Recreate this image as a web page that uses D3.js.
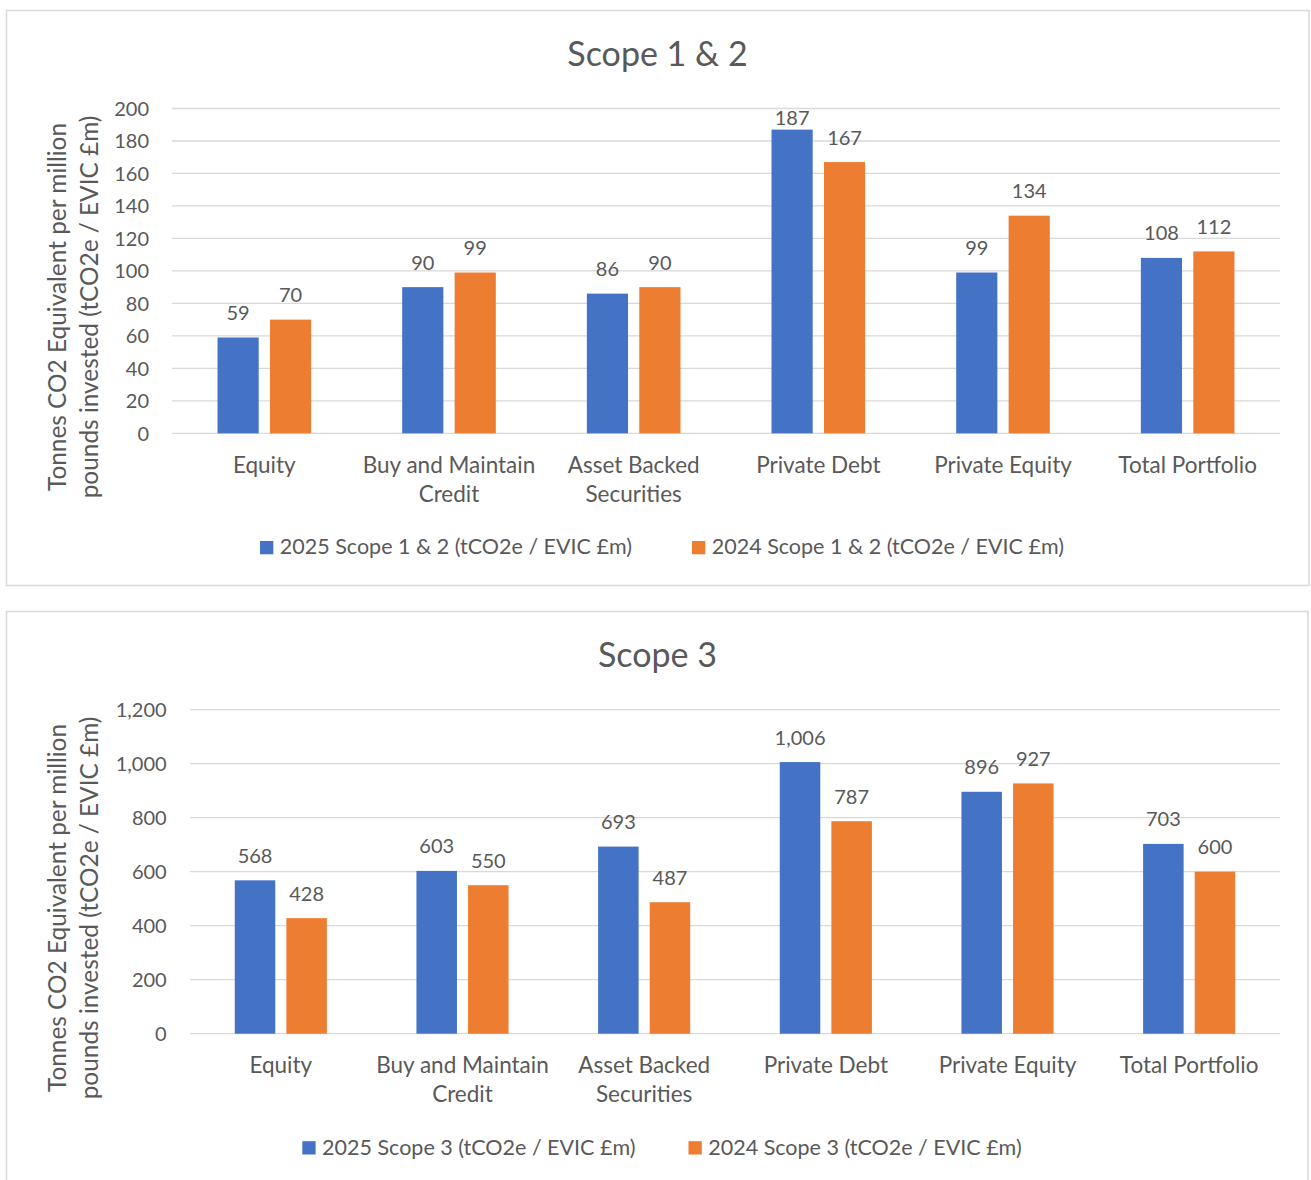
<!DOCTYPE html>
<html>
<head>
<meta charset="utf-8">
<script src="https://cdn.jsdelivr.net/npm/d3@7"></script>
<style>
  html, body { margin: 0; padding: 0; background: #ffffff; }
  svg { display: block; }
  text { font-family: Lato, "Open Sans", sans-serif; fill: #595959; }
</style>
</head>
<body>
<svg id="chart" width="1311" height="1180"></svg>
<script>
// ---------- Data ----------
const categories = ["Equity", "Buy and Maintain Credit", "Asset Backed Securities", "Private Debt", "Private Equity", "Total Portfolio"];
const categoryLines = [["Equity"], ["Buy and Maintain", "Credit"], ["Asset Backed", "Securities"], ["Private Debt"], ["Private Equity"], ["Total Portfolio"]];

const scope12Series = ["2025 Scope 1 & 2 (tCO2e / EVIC £m)", "2024 Scope 1 & 2 (tCO2e / EVIC £m)"];
const scope12_2025 = [59, 90, 86, 187, 99, 108];
const scope12_2024 = [70, 99, 90, 167, 134, 112];
const scope12Ticks = [0, 20, 40, 60, 80, 100, 120, 140, 160, 180, 200];

const scope3Series = ["2025 Scope 3 (tCO2e / EVIC £m)", "2024 Scope 3 (tCO2e / EVIC £m)"];
const scope3_2025 = [568, 603, 693, 1006, 896, 703];
const scope3_2024 = [428, 550, 487, 787, 927, 600];
const scope3Ticks = [0, 200, 400, 600, 800, 1000, 1200];

const yTitleLines = ["Tonnes CO2 Equivalent per million", "pounds invested (tCO2e / EVIC £m)"];
const seriesColors = ["#4472C4", "#ED7D31"];

// ---------- Drawing ----------
const svg = d3.select("#chart");
const fmt = d3.format(",");

function drawChart(cfg) {
  const g = svg.append("g");
  // frame
  g.append("rect")
    .attr("x", cfg.frame.x).attr("y", cfg.frame.y)
    .attr("width", cfg.frame.w).attr("height", cfg.frame.h)
    .attr("fill", "#fff").attr("stroke", "#d9d9d9").attr("stroke-width", 1.5);

  // title
  g.append("text")
    .attr("x", cfg.titleX).attr("y", cfg.titleY)
    .attr("text-anchor", "middle")
    .style("font-size", "34px")
    .text(cfg.title);

  const y = d3.scaleLinear().domain([0, cfg.ticks[cfg.ticks.length - 1]]).range([cfg.plot.bottom, cfg.plot.top]);
  const x0 = d3.scaleBand().domain(categories).range([cfg.plot.left, cfg.plot.right])
    .paddingInner(0.493).paddingOuter(0.2465);
  const x1 = d3.scaleBand().domain([0, 1]).range([0, x0.bandwidth()]).paddingInner(0.215);

  // gridlines
  g.append("g").selectAll("line").data(cfg.ticks).join("line")
    .attr("x1", cfg.plot.left).attr("x2", cfg.plot.right)
    .attr("y1", d => y(d)).attr("y2", d => y(d))
    .attr("stroke", "#d9d9d9").attr("stroke-width", 1.3);

  // y tick labels
  g.append("g").selectAll("text").data(cfg.ticks).join("text")
    .attr("x", cfg.tickX).attr("y", d => y(d))
    .attr("dy", "0.36em")
    .attr("text-anchor", "end")
    .style("font-size", "20px")
    .text(d => fmt(d));

  // bars
  const seriesVals = [cfg.v2025, cfg.v2024];
  seriesVals.forEach((vals, si) => {
    const bg = g.append("g");
    bg.selectAll("rect").data(vals).join("rect")
      .attr("x", (d, i) => x0(categories[i]) + x1(si))
      .attr("width", x1.bandwidth())
      .attr("y", d => y(d))
      .attr("height", d => y(0) - y(d))
      .attr("fill", seriesColors[si]);
    bg.selectAll("text").data(vals).join("text")
      .attr("x", (d, i) => x0(categories[i]) + x1(si) + x1.bandwidth() / 2)
      .attr("y", d => Math.max(y(d) - 17.5, cfg.plot.top + 16.5))
      .attr("text-anchor", "middle")
      .style("font-size", "20px")
      .text(d => fmt(d));
  });

  // category labels
  const cg = g.append("g");
  categories.forEach((c, i) => {
    const t = cg.append("text")
      .attr("x", x0(c) + x0.bandwidth() / 2)
      .attr("y", cfg.plot.bottom + 39.2)
      .attr("text-anchor", "middle")
      .style("font-size", "22.5px");
    categoryLines[i].forEach((ln, li) => {
      t.append("tspan").attr("x", x0(c) + x0.bandwidth() / 2).attr("dy", li === 0 ? 0 : 29.3).text(ln);
    });
  });

  // y axis title
  const yt = g.append("text")
    .attr("transform", `translate(0,${cfg.yTitleCenter}) rotate(-90)`)
    .attr("text-anchor", "middle")
    .style("font-size", "24.4px");
  yTitleLines.forEach((ln, li) => {
    yt.append("tspan").attr("x", 0).attr("y", li === 0 ? 66 : 98).text(ln);
  });

  // legend
  const lg = g.append("g");
  const items = cfg.series.map((s, si) => {
    const it = lg.append("g");
    it.append("rect").attr("width", 13.3).attr("height", 13.3)
      .attr("y", cfg.legendY - 13.3).attr("fill", seriesColors[si]);
    const tx = it.append("text").attr("x", 19.8).attr("y", cfg.legendY)
      .style("font-size", "21.5px").text(s);
    return { it, w: 19.8 + tx.node().getComputedTextLength() };
  });
  const gap = cfg.legendGap;
  const total = items.reduce((a, b) => a + b.w, 0) + gap * (items.length - 1);
  let cx = cfg.legendCenter - total / 2;
  items.forEach(d => { d.it.attr("transform", `translate(${cx},0)`); cx += d.w + gap; });
}

drawChart({
  frame: { x: 6.5, y: 10.5, w: 1302.5, h: 575 },
  title: "Scope 1 & 2", titleX: 657.5, titleY: 65.7,
  plot: { left: 172, right: 1280, top: 108.5, bottom: 433.3 },
  ticks: scope12Ticks, tickX: 149,
  v2025: scope12_2025, v2024: scope12_2024,
  series: scope12Series,
  yTitleCenter: 307,
  legendY: 554.3, legendCenter: 662, legendGap: 60
});

drawChart({
  frame: { x: 6.5, y: 611.5, w: 1301.5, h: 600 },
  title: "Scope 3", titleX: 657.5, titleY: 667.4,
  plot: { left: 190, right: 1280, top: 709.7, bottom: 1033.7 },
  ticks: scope3Ticks, tickX: 166.7,
  v2025: scope3_2025, v2024: scope3_2024,
  series: scope3Series,
  yTitleCenter: 908,
  legendY: 1154.5, legendCenter: 662, legendGap: 53
});
</script>
</body>
</html>
